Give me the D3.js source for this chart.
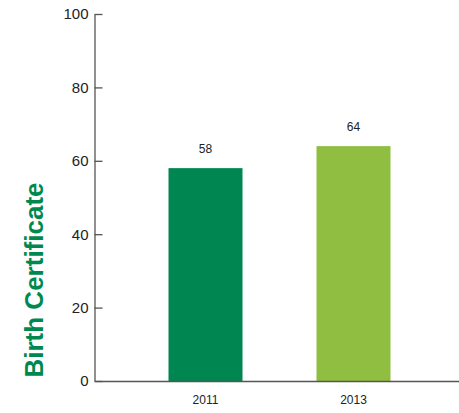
<!DOCTYPE html>
<meta charset="utf-8">
<head>
<style>
body { margin: 0; background: #fff; }
svg { font-family: "Liberation Sans", Arial, sans-serif; }
.axis path, .axis line { stroke: #555; stroke-width: 1.3px; }
.axis text { fill: #222; }
</style>
</head>
<body>
<svg width="459" height="413"></svg>
<script src="https://cdn.jsdelivr.net/npm/d3@7"></script>
<script>
var years = ["2011", "2013"],
    values = [58, 64],
    colors = ["#008650", "#8fbe41"],
    yTicks = [0, 20, 40, 60, 80, 100];

var svg = d3.select("svg");

var x = d3.scaleBand()
    .domain(years)
    .range([94.5, 464.5])
    .paddingInner(0.5)
    .paddingOuter(0.5);
var y = d3.scaleLinear()
    .domain([0, 100])
    .range([381, 14]);

// y axis, ticks point inward
svg.append("g")
    .attr("class", "axis axis--y")
    .attr("transform", "translate(94.5,0)")
    .call(d3.axisRight(y).tickValues(yTicks).tickSize(8).tickSizeOuter(0))
    .call(function(g) {
      g.selectAll("text")
          .attr("x", -6)
          .attr("text-anchor", "end")
          .style("font-size", "15px");
    });

g = svg.append("g");
g.selectAll("rect")
    .data(values)
  .enter().append("rect")
    .attr("x", function(d, i) { return x(years[i]); })
    .attr("y", function(d) { return y(d); })
    .attr("width", x.bandwidth())
    .attr("height", function(d) { return y(0) - y(d); })
    .attr("fill", function(d, i) { return colors[i]; });

g.selectAll(".val")
    .data(values)
  .enter().append("text")
    .attr("class", "val")
    .attr("x", function(d, i) { return x(years[i]) + x.bandwidth() / 2; })
    .attr("y", function(d) { return y(d) - 15; })
    .attr("text-anchor", "middle")
    .style("font-size", "12px")
    .style("fill", "#222")
    .text(function(d) { return d; });

// x axis
svg.append("g")
    .attr("class", "axis axis--x")
    .attr("transform", "translate(0,381)")
    .call(d3.axisBottom(x).tickSize(0).tickSizeOuter(0).tickPadding(14))
    .call(function(g) {
      g.selectAll("text").style("font-size", "12px");
    });

svg.append("text")
    .attr("transform", "translate(43,280) rotate(-90)")
    .attr("text-anchor", "middle")
    .style("font-size", "26px")
    .style("font-weight", "bold")
    .style("fill", "#00894f")
    .text("Birth Certificate");
</script>
</body>
</html>
